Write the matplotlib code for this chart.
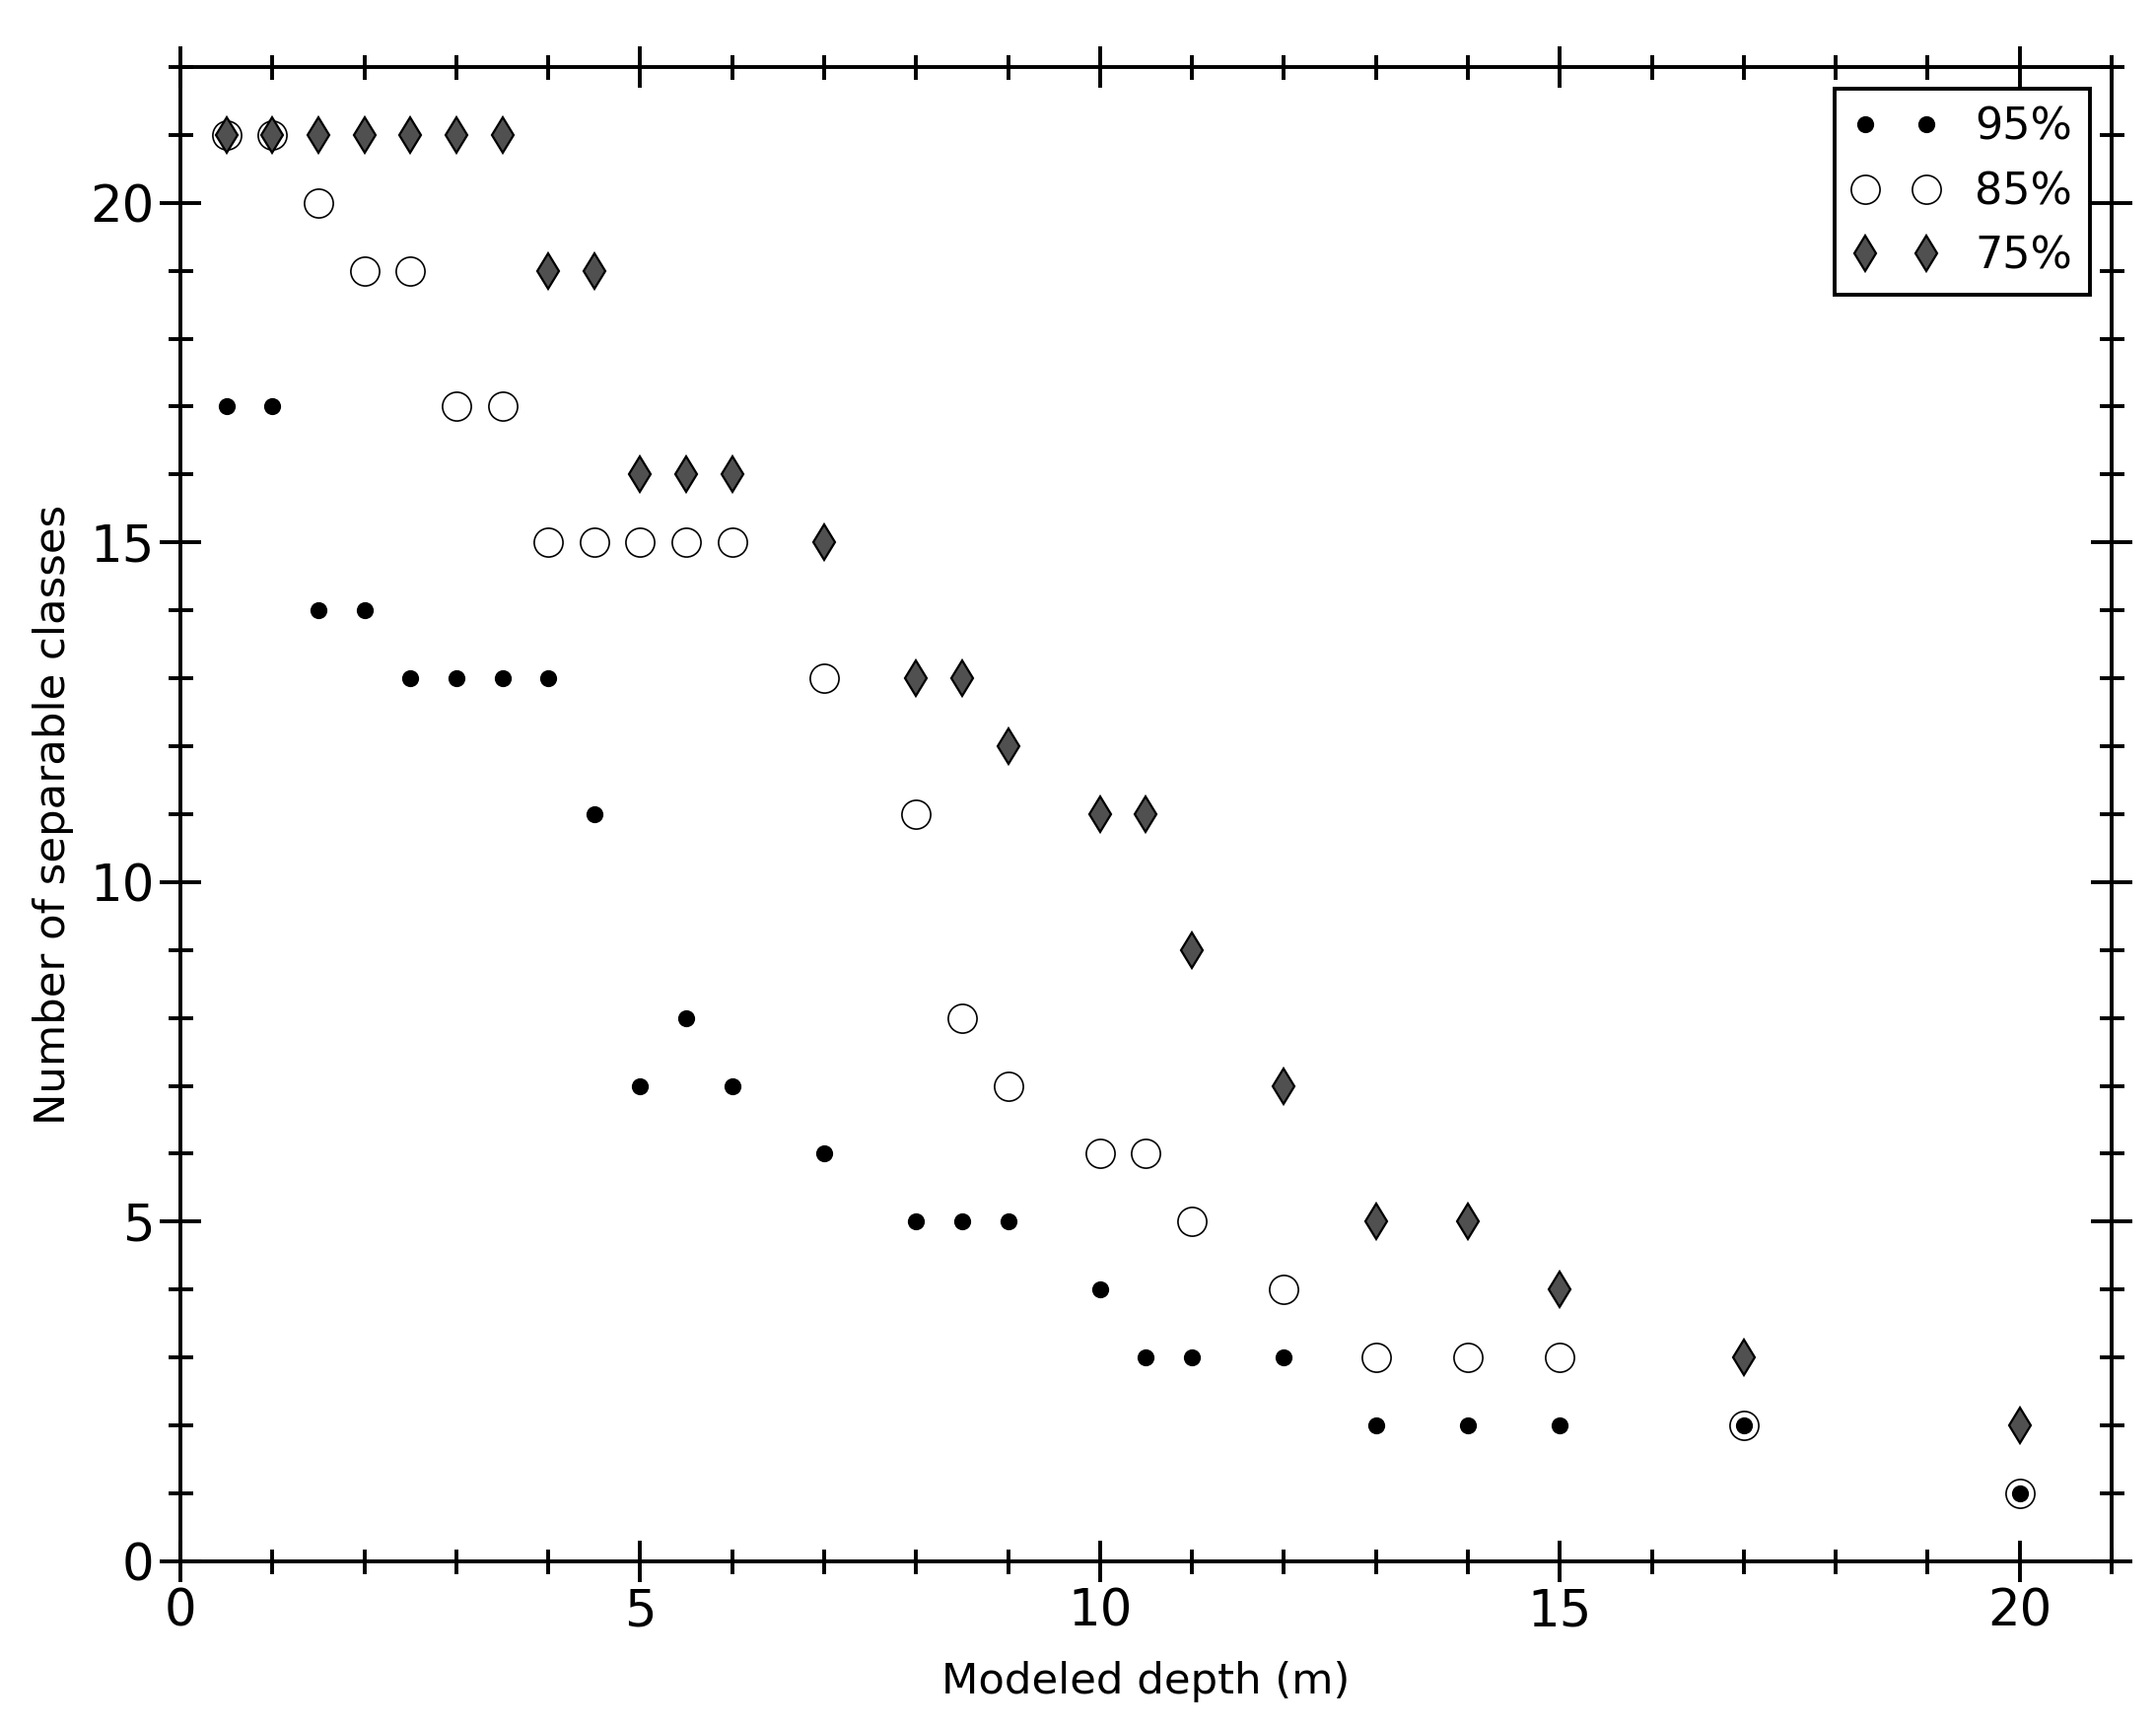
import matplotlib
matplotlib.use("Agg")
import matplotlib.pyplot as plt
from matplotlib.ticker import MultipleLocator

depth = [0.5, 1, 1.5, 2, 2.5, 3, 3.5, 4, 4.5, 5, 5.5, 6, 7, 8, 8.5, 9,
         10, 10.5, 11, 12, 13, 14, 15, 17, 20]
classes_95 = [17, 17, 14, 14, 13, 13, 13, 13, 11, 7, 8, 7, 6, 5, 5, 5,
              4, 3, 3, 3, 2, 2, 2, 2, 1]
classes_85 = [21, 21, 20, 19, 19, 17, 17, 15, 15, 15, 15, 15, 13, 11, 8, 7,
              6, 6, 5, 4, 3, 3, 3, 2, 1]
classes_75 = [21, 21, 21, 21, 21, 21, 21, 19, 19, 16, 16, 16, 15, 13, 13, 12,
              11, 11, 9, 7, 5, 5, 4, 3, 2]

fig = plt.figure(figsize=(10.935, 8.755), dpi=200)
ax = fig.add_axes([0.0837, 0.0954, 0.8957, 0.8658])

ax.plot(depth, classes_95, 'o', linestyle='none', color='black', markersize=5.2,
        label='95%', zorder=3)
ax.plot(depth, classes_85, 'o', linestyle='none', markerfacecolor='white',
        markeredgecolor='black', markeredgewidth=0.6, markersize=10.5,
        label='85%', zorder=2)
ax.plot(depth, classes_75, 'd', linestyle='none', markerfacecolor='#505050',
        markeredgecolor='black', markeredgewidth=0.8, markersize=9.4,
        label='75%', zorder=4)

ax.set_xlim(0, 21)
ax.set_ylim(0, 22)
ax.xaxis.set_major_locator(MultipleLocator(5))
ax.xaxis.set_minor_locator(MultipleLocator(1))
ax.yaxis.set_major_locator(MultipleLocator(5))
ax.yaxis.set_minor_locator(MultipleLocator(1))
ax.tick_params(which='both', direction='inout', top=True, right=True,
               width=1.4, labelsize=18.5)
ax.tick_params(which='major', length=15, pad=2)
ax.tick_params(which='minor', length=9)
for s in ax.spines.values():
    s.set_linewidth(1.4)

ax.set_xlabel('Modeled depth (m)', fontsize=15.6, labelpad=9)
ax.set_ylabel('Number of separable classes', fontsize=15.6, labelpad=6)

leg = ax.legend(loc='upper right', numpoints=2, fontsize=16, fancybox=False,
                framealpha=1, edgecolor='black', borderaxespad=0.5)
leg.get_frame().set_linewidth(1.4)

fig.savefig('out.png', dpi=200)
